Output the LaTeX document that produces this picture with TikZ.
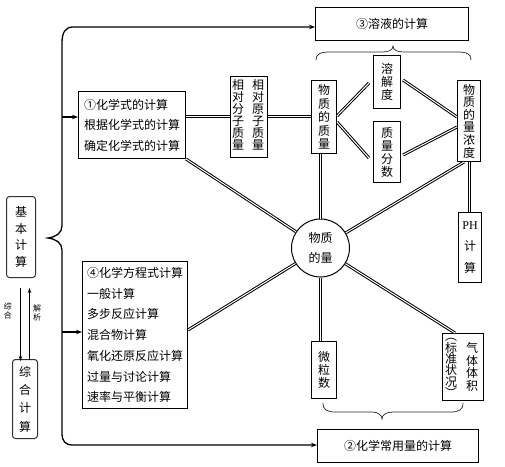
\documentclass[tikz,border=0pt]{standalone}
\usepackage{fontspec}
\newfontfamily\cjk{Noto Sans CJK SC}
\newfontfamily\ser{Liberation Serif}
\usetikzlibrary{arrows.meta}
\newcommand\vf[1]{\cjk\fontsize{12}{#1}\selectfont\lineskiplimit=-20pt\relax}
\newcommand\vsm{\cjk\fontsize{8}{9}\selectfont\lineskiplimit=-20pt\relax}
\tikzset{
  bx/.style={draw, line width=1pt, inner sep=0pt, align=center, font=\vf{14}},
  vt/.style={inner sep=0pt, align=center},
  rbx/.style={draw=black!80, line width=1pt, rounded corners=3pt, inner sep=0pt, align=center},
  dl/.style={draw, line width=1pt, double=white, double distance=1pt},
  bigbrace/.style={line width=1.3pt},
  smallbrace/.style={line width=0.7pt, draw=black!85},
  ar/.style={-{Stealth[length=6pt,width=4.5pt]}, line width=1.3pt},
  sar/.style={-{Stealth[length=5pt,width=3.5pt]}, line width=0.8pt},
}
\begin{document}
\begin{tikzpicture}[x=1pt,y=-1pt]
\useasboundingbox[fill=white] (0,0) rectangle (505,466);

% main boxes
\node[bx, minimum width=153pt, minimum height=33pt] (sol) at (392,24) {③溶液的计算};
\node[bx, minimum width=161pt, minimum height=33pt] (com) at (398,446) {②化学常用量的计算};
\node[bx, minimum width=107pt, minimum height=67pt, align=left, font=\vf{20.5}] (f1) at (132,125)
  {①化学式的计算\\根据化学式的计算\\确定化学式的计算};
\node[bx, minimum width=105pt, minimum height=147pt, align=left, font=\vf{20.7}] (f4) at (135,335)
  {④化学方程式计算\\一般计算\\多步反应计算\\混合物计算\\氧化还原反应计算\\过量与讨论计算\\速率与平衡计算};

% relative mass box
\node[bx, minimum width=37pt, minimum height=81pt] (rel) at (249,117) {};
\node[vt, font=\vf{12}] (relA) at (238,115) {相\\对\\分\\子\\质\\量};
\node[vt, font=\vf{12}] (relB) at (258,115) {相\\对\\原\\子\\质\\量};

\node[bx, minimum width=25pt, minimum height=73pt, font=\vf{13.5}] (mass) at (324,117) {物\\质\\的\\质\\量};
\node[bx, minimum width=27pt, minimum height=53pt, font=\vf{12.8}] (sd) at (387,82) {溶\\解\\度};
\node[bx, minimum width=27pt, minimum height=61pt, font=\vf{13}] (mf) at (387,152) {质\\量\\分\\数};
\node[bx, minimum width=23pt, minimum height=81pt, font=\vf{12.6}] (conc) at (469,121) {物\\质\\的\\量\\浓\\度};
\node[bx, minimum width=23pt, minimum height=70pt, font=\vf{21.5}] (ph) at (470,247.5) {{\ser PH}\\计\\算};
\node[draw, circle, minimum size=58pt, line width=1pt, inner sep=0pt, align=center, font=\vf{20}] (mol) at (320.5,248) {物质\\的量};
\node[bx, minimum width=25pt, minimum height=57pt, font=\vf{13}] (part) at (324,370) {微\\粒\\数};
\node[bx, minimum width=41pt, minimum height=67pt] (gas) at (463,367) {};
\node[vt, font=\vf{11.3}] (gasA) at (451,368) {︵\\标\\准\\状\\况\\︶};
\node[vt, font=\vf{12.5}] (gasB) at (472,367) {气\\体\\体\\积};

% left boxes
\node[rbx, minimum width=29pt, minimum height=81pt, font=\vf{16.7}] (basic) at (21,237) {基\\本\\计\\算};
\node[rbx, minimum width=25pt, minimum height=79pt, font=\vf{18.3}] (synth) at (25,399) {综\\合\\计\\算};
\coordinate (dA) at (20.5,288);
\coordinate (dB) at (20.5,361);
\coordinate (uA) at (29.5,360);
\coordinate (uB) at (29.5,288);
\draw[sar] (dA) -- (dB);
\draw[sar] (uA) -- (uB);
\node[vt, font=\vsm] (lz) at (8,311) {综\\合};
\node[vt, font=\vsm] (lj) at (37,313) {解\\析};

% big brace
\coordinate (b3) at (sol.west |- 0,27);
\coordinate (b2) at (com.west |- 0,445);
\draw[bigbrace, {Stealth[length=6pt,width=4.5pt]}-{Stealth[length=6pt,width=4.5pt]}]
  (b3) -- (73,27) .. controls (65,27) and (62,33) .. (62,43) -- (62,226)
  .. controls (62,233) and (56,237) .. (48,238)
  .. controls (56,239) and (62,243) .. (62,250) -- (62,433)
  .. controls (62,441) and (65,445) .. (73,445) -- (b2);
\coordinate (br1) at (62,117);
\coordinate (br4) at (62,332);
\draw[ar] (br1) -- (f1.west |- br1);
\draw[ar] (br4) -- (f4.west |- br4);

% small braces
\draw[smallbrace] (316,60) .. controls (316,54) and (320,52) .. (330,52) -- (382,52)
  .. controls (389,52) and (393,50) .. (393,46)
  .. controls (393,50) and (397,52) .. (404,52) -- (457,52)
  .. controls (467,52) and (471,54) .. (471,60);
\draw[smallbrace] (323,403) .. controls (323,410) and (327,412) .. (336,412) -- (372,412)
  .. controls (378,412) and (382,415) .. (382,419)
  .. controls (382,415) and (386,412) .. (393,412) -- (450,412)
  .. controls (459,412) and (463,410) .. (463,403);

% double connectors
\draw[dl] (f1.east |- 0,116.5) -- (rel.west |- 0,116.5);
\draw[dl] (rel.east |- 0,116.5) -- (mass.west |- 0,116.5);
\draw[dl] ([yshift=1pt]mass.east) -- ([xshift=-4pt,yshift=-1pt]sd.west);
\draw[dl] ([yshift=-5pt]mass.east) -- ([xshift=-4pt,yshift=-6pt]mf.west);
\draw[dl] ([xshift=2pt,yshift=2pt]sd.east) -- ([yshift=4pt]conc.west);
\draw[dl] ([xshift=2pt,yshift=-3pt]mf.east) -- ([yshift=-6pt]conc.west);
\draw[dl] (mass.south -| mol.north) -- (mol.north);
\draw[dl] ([xshift=7pt]conc.south west) -- (mol);
\draw[dl] ([xshift=0.5pt]conc.south) -- ([xshift=0.5pt]conc.south |- ph.north);
\draw[dl] (f1.south east) -- (mol);
\draw[dl] (f4.east |- 0,330) -- (mol);
\draw[dl] (mol.south) -- (mol.south |- part.north);
\draw[dl] ([xshift=13pt]gas.north west) -- (mol);
\end{tikzpicture}
\end{document}
